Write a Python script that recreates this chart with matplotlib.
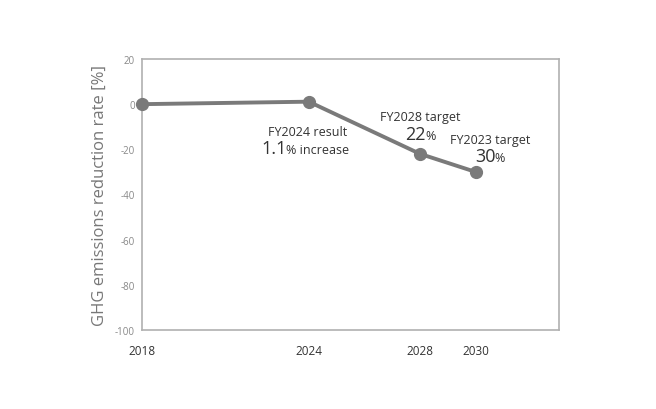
import matplotlib.pyplot as plt
import numpy as np

# data
years = np.array([2018, 2024, 2028, 2030])
rates = np.array([0, 1.1, -22, -30])
yticks = [-100, -80, -60, -40, -20, 0, 20]
xticks = [2018, 2024, 2028, 2030]

# annotation texts: (small header, big number, small suffix)
headers = ['FY2024 result', 'FY2028 target', 'FY2023 target']
bignums = ['1.1', '22', '30']
suffixes = ['% increase', '%', '%']

plt.rcParams['font.family'] = ['Open Sans', 'DejaVu Sans']

fig = plt.figure(figsize=(6.56, 4.10), dpi=100)
ax = fig.add_axes([142 / 656, 1 - 331 / 410, (559 - 142) / 656, (331 - 60) / 410])

line_col = '#7a7a7a'
ax.plot(years, rates, color=line_col, lw=2.8, marker='o', ms=8.5, clip_on=False, zorder=3)

ax.set_xlim(2018, 2033)
ax.set_ylim(-100, 20)
ax.set_yticks(yticks)
ax.set_xticks(xticks)
ax.set_yticklabels([str(v) for v in yticks], fontsize=7, color='#888888')
ax.set_xticklabels([str(v) for v in xticks], fontsize=8.5, color='#333333')
ax.tick_params(axis='y', length=0, pad=5)
ax.tick_params(axis='x', length=0, pad=10)

for s in ax.spines.values():
    s.set_color('#b0b0b0')
    s.set_linewidth(1.2)

ax.set_ylabel('GHG emissions reduction rate [%]', fontsize=12, color='#777777', labelpad=5)

# offsets in pixels from each point: header centre, big-number anchor
px = 0.72
head_off = [(-1, -30), (0, 37), (15, 32)]
num_off = [(-22, -51), (6, 15), (20, 11)]

txt_col = '#333333'
for i in range(1, 4):
    x, y = years[i], rates[i]
    hx, hy = head_off[i - 1]
    ax.annotate(headers[i - 1], (x, y), xytext=(hx * px, hy * px),
                textcoords='offset points', ha='center', va='center',
                fontsize=9, color=txt_col)
    nx, ny = num_off[i - 1]
    ax.annotate(bignums[i - 1], (x, y), xytext=(nx * px, ny * px),
                textcoords='offset points', ha='right', va='baseline',
                fontsize=13, color=txt_col)
    ax.annotate(suffixes[i - 1], (x, y), xytext=((nx - 1) * px, ny * px),
                textcoords='offset points', ha='left', va='baseline',
                fontsize=9, color=txt_col)

fig.savefig('out.png', dpi=100)
